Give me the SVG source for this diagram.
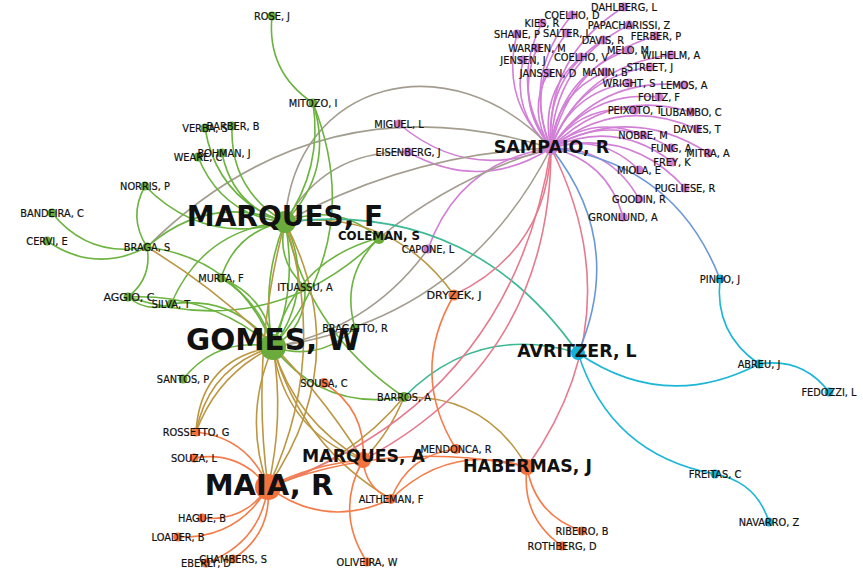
<svg xmlns="http://www.w3.org/2000/svg" width="863" height="568" viewBox="0 0 863 568">
<style>
.e{fill:none;stroke-width:1.6}
.eg{stroke:#6cb33f}.ep{stroke:#d27fd6}.ey{stroke:#a39d90}.et{stroke:#bb9743}.eq{stroke:#3cb892}
.ek{stroke:#e67a8e}.eb{stroke:#6b97d8}.eo{stroke:#f57b48}.ec{stroke:#1cb6d6}
.ng{fill:#6aab3b}.np{fill:#d07ed3}.no{fill:#f4733d}.nc{fill:#17b0d6}
text{font-family:"DejaVu Sans","Liberation Sans",sans-serif;fill:#111;text-anchor:middle}
.l{font-size:9.8px;stroke:#111;stroke-width:0.2}
.b{font-weight:bold}
</style>
<rect width="863" height="568" fill="#fff"/>
<g id="edges">
<g class="e ep">
<path d="M551,148Q545.2,55.6 624,7"/><path d="M551,148Q521.6,75.2 572,15"/><path d="M551,148Q509,88.2 542,23"/>
<path d="M551,148Q553.1,63.1 629,25"/><path d="M551,148Q499.8,101.2 517,34"/><path d="M551,148Q524.5,85.7 567,33"/>
<path d="M551,148Q544.6,78.4 603,40"/><path d="M551,148Q569.9,60.5 656,36"/><path d="M551,148Q514,102.2 537,48"/>
<path d="M551,148Q560.1,75.9 628,50"/><path d="M551,148Q510.6,112.4 523,60"/><path d="M551,148Q538.7,93.5 581,57"/>
<path d="M551,148Q583.1,65.5 671,55"/><path d="M551,148Q576.2,77.8 650,67"/><path d="M551,148Q527,111.4 548,73"/>
<path d="M551,148Q555.2,93.8 605,72"/><path d="M551,148Q570.5,92.1 629,83"/><path d="M551,148Q598.6,76.6 684,85"/>
<path d="M551,148Q589.7,90.1 659,97"/><path d="M551,148Q581.6,103.8 635,110"/><path d="M551,148Q610.2,88 691,112"/>
<path d="M551,148Q618.3,94.7 697,129"/><path d="M551,148Q593.1,113.9 643,135"/><path d="M551,148Q611,112 671,148"/>
<path d="M551,148Q631,103.4 708,153"/><path d="M551,148Q615.7,118.7 672,162"/><path d="M551,148Q601.6,132.6 639,170"/>
<path d="M551,148Q630,127.8 685,188"/><path d="M551,148Q610.3,147.1 639,199"/><path d="M551,148Q607.7,160.9 623,217"/>
<path d="M551,148Q467.8,181.6 399,124"/><path d="M551,148Q480.7,192.9 408,152"/><path d="M428,249Q459.2,161.6 551,148"/>
</g>
<g class="e ey">
<path d="M285,222C295,80 450,40 551,148"/><path d="M147,247Q319.8,76.6 551,148"/><path d="M285,222Q409.6,153.2 551,148"/>
<path d="M285,222Q325.5,150.1 408,152"/><path d="M551,148Q463.7,319.8 273,347"/><path d="M428,249Q370.1,329 273,347"/>
<path d="M379,238Q456,175.8 551,148"/>
</g>
<g class="e eg">
<path d="M313,103Q266.4,71.8 272,16"/><path d="M313,103Q334.7,170.9 285,222"/><path d="M313,103Q322.8,168.1 285,222"/>
<path d="M313,103Q366.2,237 273,347"/><path d="M285,222Q216.8,199 205,128"/><path d="M285,222Q229.7,189.9 232,126"/>
<path d="M285,222Q222.3,216.1 198,157"/><path d="M285,222Q232.8,206.4 222,153"/><path d="M285,222Q204.2,246 145,186"/>
<path d="M147,247Q127.7,217.1 145,186"/><path d="M147,247Q89.3,258.5 52,213"/><path d="M147,247Q95.2,274 47,241"/>
<path d="M147,247Q208.5,193.1 285,222"/><path d="M147,247Q240,259.2 273,347"/><path d="M147,247Q152.5,277.7 128,297"/>
<path d="M221,278Q236.2,230.8 285,222"/><path d="M221,278Q267.7,296.9 273,347"/><path d="M221,278Q260.8,302.1 273,347"/>
<path d="M171,304Q147.4,313.4 128,297"/><path d="M379,238Q271.2,342.8 128,297"/><path d="M171,304Q203.4,228.8 285,222"/>
<path d="M171,304Q234.9,294.9 273,347"/><path d="M183,379Q218.4,336 273,347"/><path d="M285,222Q316.5,288.1 273,347"/>
<path d="M285,222Q297.8,286.3 273,347"/><path d="M273,347Q260.2,282.7 285,222"/><path d="M355,328Q340,275.8 379,238"/>
<path d="M273,347Q293.3,260.7 379,238"/><path d="M285,222Q336.8,201.8 379,238"/><path d="M355,328Q319.7,362.1 273,347"/>
<path d="M404,397Q323.5,411.3 273,347"/><path d="M404,397Q309.5,333.3 285,222"/><path d="M305,287Q275.5,260.5 285,222"/>
<path d="M305,287Q307,326.6 273,347"/><path d="M128,297Q210.5,293 273,347"/>
</g>
<g class="e et">
<path d="M196,432Q209,366.4 273,347"/><path d="M196,432Q217.5,374.1 273,347"/><path d="M196,432Q200.5,358.7 273,347"/>
<path d="M285,222Q356,359.6 268,487"/><path d="M285,222Q329.5,357.9 268,487"/><path d="M268,487Q250,352.8 285,222"/>
<path d="M268,487Q242.5,416 273,347"/><path d="M273,347Q284.5,417.5 268,487"/><path d="M363,460Q284.1,430.5 273,347"/>
<path d="M363,460Q295.4,421.5 273,347"/><path d="M147,247Q280.6,327.6 363,460"/><path d="M391,499Q301.6,446.6 273,347"/>
<path d="M404,397Q389.8,432.6 363,460"/><path d="M404,397Q349.5,462.4 268,487"/><path d="M404,397Q486.5,395.1 527,467"/>
<path d="M285,222Q391.4,207.8 454,295"/>
</g>
<g class="e eq">
<path d="M285,222Q470.8,199.6 578,353"/><path d="M404,397Q477.8,322.8 578,353"/>
</g>
<g class="e ek">
<path d="M551,148Q546.6,250.6 454,295"/><path d="M551,148Q550.6,360.4 363,460"/><path d="M551,148Q511.2,402.4 268,487"/>
<path d="M551,148Q634.7,314.7 527,467"/>
</g>
<g class="e eb">
<path d="M551,148Q626,242.4 578,353"/><path d="M551,148Q674.8,162.8 720,279"/>
</g>
<g class="e ec">
<path d="M759,364Q665.2,412.8 578,353"/><path d="M715,474Q610.2,454.6 578,353"/><path d="M759,364Q714,333.2 720,279"/>
<path d="M759,364Q802.4,357 829,392"/><path d="M715,474Q756.4,481.8 769,522"/>
</g>
<g class="e eo">
<path d="M196,432Q248.5,437.9 268,487"/><path d="M194,458Q239.7,450.3 268,487"/><path d="M268,487Q244.3,522.3 202,518"/>
<path d="M268,487Q238,539 178,537"/><path d="M268,487Q259.8,543.6 206,563"/><path d="M268,487Q272.1,533.5 233,559"/>
<path d="M391,499Q325.9,529.9 268,487"/><path d="M268,487Q312.8,464 363,460"/><path d="M268,487Q394.5,438.2 527,467"/>
<path d="M391,499Q449.4,442.2 527,467"/><path d="M391,499Q408.5,454.5 456,449"/><path d="M391,499Q365.3,487.9 363,460"/>
<path d="M367,562Q334.4,512.2 363,460"/><path d="M324,383Q366.6,409.8 363,460"/><path d="M456,449Q408.8,372.6 454,295"/>
<path d="M582,531Q535.3,515.5 527,467"/><path d="M562,546Q520.8,517 527,467"/>
</g>
</g>
<g id="nodes">
<g id="n-dahlberg"><circle class="np" cx="624" cy="7" r="4.5"/><text class="l" x="624" y="10.5">DAHLBERG, L</text></g>
<g id="n-coelho-d"><circle class="np" cx="572" cy="15" r="4.5"/><text class="l" x="572" y="18.5">COELHO, D</text></g>
<g id="n-kies"><circle class="np" cx="542" cy="23" r="4.5"/><text class="l" x="542" y="26.5">KIES, R</text></g>
<g id="n-papacharissi"><circle class="np" cx="629" cy="25" r="4.5"/><text class="l" x="629" y="28.5">PAPACHARISSI, Z</text></g>
<g id="n-shane"><circle class="np" cx="517" cy="34" r="4.5"/><text class="l" x="517" y="37.5">SHANE, P</text></g>
<g id="n-salter"><circle class="np" cx="567" cy="33" r="4.5"/><text class="l" x="567" y="36.5">SALTER, L</text></g>
<g id="n-davis"><circle class="np" cx="603" cy="40" r="4.5"/><text class="l" x="603" y="43.5">DAVIS, R</text></g>
<g id="n-ferber"><circle class="np" cx="656" cy="36" r="4.5"/><text class="l" x="656" y="39.5">FERBER, P</text></g>
<g id="n-warren"><circle class="np" cx="537" cy="48" r="4.5"/><text class="l" x="537" y="51.5">WARREN, M</text></g>
<g id="n-melo"><circle class="np" cx="628" cy="50" r="4.5"/><text class="l" x="628" y="53.5">MELO, M</text></g>
<g id="n-jensen"><circle class="np" cx="523" cy="60" r="4.5"/><text class="l" x="523" y="63.5">JENSEN, J</text></g>
<g id="n-coelho-v"><circle class="np" cx="581" cy="57" r="4.5"/><text class="l" x="581" y="60.5">COELHO, V</text></g>
<g id="n-wilhelm"><circle class="np" cx="671" cy="55" r="4.5"/><text class="l" x="671" y="58.5">WILHELM, A</text></g>
<g id="n-street"><circle class="np" cx="650" cy="67" r="4.5"/><text class="l" x="650" y="70.5">STREET, J</text></g>
<g id="n-janssen"><circle class="np" cx="548" cy="73" r="4.5"/><text class="l" x="548" y="76.5">JANSSEN, D</text></g>
<g id="n-manin"><circle class="np" cx="605" cy="72" r="4.5"/><text class="l" x="605" y="75.5">MANIN, B</text></g>
<g id="n-wright"><circle class="np" cx="629" cy="83" r="4.5"/><text class="l" x="629" y="86.5">WRIGHT, S</text></g>
<g id="n-lemos"><circle class="np" cx="684" cy="85" r="4.5"/><text class="l" x="684" y="88.5">LEMOS, A</text></g>
<g id="n-foltz"><circle class="np" cx="659" cy="97" r="4.5"/><text class="l" x="659" y="100.5">FOLTZ, F</text></g>
<g id="n-peixoto"><circle class="np" cx="635" cy="110" r="4.5"/><text class="l" x="635" y="113.5">PEIXOTO, T</text></g>
<g id="n-lubambo"><circle class="np" cx="691" cy="112" r="4.5"/><text class="l" x="691" y="115.5">LUBAMBO, C</text></g>
<g id="n-davies"><circle class="np" cx="697" cy="129" r="4.5"/><text class="l" x="697" y="132.5">DAVIES, T</text></g>
<g id="n-nobre"><circle class="np" cx="643" cy="135" r="4.5"/><text class="l" x="643" y="138.5">NOBRE, M</text></g>
<g id="n-fung"><circle class="np" cx="671" cy="148" r="4.5"/><text class="l" x="671" y="151.5">FUNG, A</text></g>
<g id="n-mitra"><circle class="np" cx="708" cy="153" r="4.5"/><text class="l" x="708" y="156.5">MITRA, A</text></g>
<g id="n-frey"><circle class="np" cx="672" cy="162" r="4.5"/><text class="l" x="672" y="165.5">FREY, K</text></g>
<g id="n-miola"><circle class="np" cx="639" cy="170" r="4.5"/><text class="l" x="639" y="173.5">MIOLA, E</text></g>
<g id="n-pugliese"><circle class="np" cx="685" cy="188" r="4.5"/><text class="l" x="685" y="191.5">PUGLIESE, R</text></g>
<g id="n-goodin"><circle class="np" cx="639" cy="199" r="4.5"/><text class="l" x="639" y="202.5">GOODIN, R</text></g>
<g id="n-gronlund"><circle class="np" cx="623" cy="217" r="4.5"/><text class="l" x="623" y="220.5">GRONLUND, A</text></g>
<g id="n-miguel"><circle class="np" cx="399" cy="124" r="4.5"/><text class="l" x="399" y="127.5">MIGUEL, L</text></g>
<g id="n-eisenberg"><circle class="np" cx="408" cy="152" r="4.5"/><text class="l" x="408" y="155.5">EISENBERG, J</text></g>
<g id="n-capone"><circle class="np" cx="428" cy="249" r="4.5"/><text class="l" x="428" y="252.5">CAPONE, L</text></g>
<g id="n-sampaio"><circle class="np" cx="551" cy="148" r="7"/><text class="b" x="551.5" y="153" font-size="17.5">SAMPAIO, R</text></g>

<g id="n-rose"><circle class="ng" cx="272" cy="16" r="4.5"/><text class="l" x="272" y="19.5">ROSE, J</text></g>
<g id="n-mitozo"><circle class="ng" cx="313" cy="103" r="4.5"/><text class="l" x="313" y="106.5">MITOZO, I</text></g>
<g id="n-verba"><circle class="ng" cx="205" cy="128" r="4.5"/><text class="l" x="205" y="131.5">VERBA, S</text></g>
<g id="n-barber"><circle class="ng" cx="232" cy="126" r="4.5"/><text class="l" x="233" y="129.5">BARBER, B</text></g>
<g id="n-weare"><circle class="ng" cx="198" cy="157" r="4.5"/><text class="l" x="198" y="160.5">WEARE, C</text></g>
<g id="n-bohman"><circle class="ng" cx="222" cy="153" r="4.5"/><text class="l" x="224" y="156.5">BOHMAN, J</text></g>
<g id="n-norris"><circle class="ng" cx="145" cy="186" r="4.5"/><text class="l" x="145" y="189.5">NORRIS, P</text></g>
<g id="n-bandeira"><circle class="ng" cx="52" cy="213" r="4.5"/><text class="l" x="52" y="216.5">BANDEIRA, C</text></g>
<g id="n-cervi"><circle class="ng" cx="47" cy="241" r="4.5"/><text class="l" x="47" y="244.5">CERVI, E</text></g>
<g id="n-braga"><circle class="ng" cx="147" cy="247" r="4.5"/><text class="l" x="147" y="250.5">BRAGA, S</text></g>
<g id="n-murta"><circle class="ng" cx="221" cy="278" r="4.5"/><text class="l" x="221" y="281.5">MURTA, F</text></g>
<g id="n-ituassu"><circle class="ng" cx="305" cy="287" r="4"/><text class="l" x="305" y="290.5">ITUASSU, A</text></g>
<g id="n-aggio"><circle class="ng" cx="128" cy="297" r="4.5"/><text x="129" y="301" font-size="11" stroke="#111" stroke-width="0.2">AGGIO, C</text></g>
<g id="n-silva"><circle class="ng" cx="171" cy="304" r="4.5"/><text class="l" x="171" y="307.5">SILVA, T</text></g>
<g id="n-bragatto"><circle class="ng" cx="355" cy="328" r="4.5"/><text class="l" x="355" y="331.5">BRAGATTO, R</text></g>
<g id="n-santos"><circle class="ng" cx="183" cy="379" r="4.5"/><text class="l" x="183" y="382.5">SANTOS, P</text></g>
<g id="n-barros"><circle class="ng" cx="404" cy="397" r="5"/><text class="l" x="404" y="400.5">BARROS, A</text></g>
<g id="n-coleman"><circle class="ng" cx="379" cy="238" r="6"/><text class="b" x="379" y="240" font-size="11.8">COLEMAN, S</text></g>
<g id="n-marques-f"><circle class="ng" cx="285" cy="222" r="11"/><text class="b" x="285" y="226" font-size="28">MARQUES, F</text></g>
<g id="n-gomes"><circle class="ng" cx="273" cy="347" r="13"/><text class="b" x="273" y="350" font-size="29.5">GOMES, W</text></g>

<g id="n-dryzek"><circle class="no" cx="454" cy="295" r="5.5"/><text x="454" y="299" font-size="11.2" stroke="#111" stroke-width="0.2">DRYZEK, J</text></g>
<g id="n-sousa"><circle class="no" cx="324" cy="383" r="5"/><text class="l" x="324" y="386.5">SOUSA, C</text></g>
<g id="n-rossetto"><circle class="no" cx="196" cy="432" r="4.5"/><text class="l" x="196" y="435.5">ROSSETTO, G</text></g>
<g id="n-souza"><circle class="no" cx="194" cy="458" r="4.5"/><text class="l" x="194" y="461.5">SOUZA, L</text></g>
<g id="n-hague"><circle class="no" cx="202" cy="518" r="4.5"/><text class="l" x="202" y="521.5">HAGUE, B</text></g>
<g id="n-loader"><circle class="no" cx="178" cy="537" r="4.5"/><text class="l" x="178" y="540.5">LOADER, B</text></g>
<g id="n-eberly"><circle class="no" cx="206" cy="563" r="4.5"/><text class="l" x="206" y="566.5">EBERLY, D</text></g>
<g id="n-chambers"><circle class="no" cx="233" cy="559" r="4.5"/><text class="l" x="233" y="562.5">CHAMBERS, S</text></g>
<g id="n-altheman"><circle class="no" cx="391" cy="499" r="5"/><text class="l" x="391" y="502.5">ALTHEMAN, F</text></g>
<g id="n-mendonca"><circle class="no" cx="456" cy="449" r="5"/><text class="l" x="456" y="452.5">MENDONCA, R</text></g>
<g id="n-oliveira"><circle class="no" cx="367" cy="562" r="4.5"/><text class="l" x="367" y="565.5">OLIVEIRA, W</text></g>
<g id="n-ribeiro"><circle class="no" cx="582" cy="531" r="4.5"/><text class="l" x="582" y="534.5">RIBEIRO, B</text></g>
<g id="n-rothberg"><circle class="no" cx="562" cy="546" r="4.5"/><text class="l" x="562" y="549.5">ROTHBERG, D</text></g>
<g id="n-marques-a"><circle class="no" cx="363" cy="460" r="8"/><text class="b" x="363.5" y="462" font-size="17.3">MARQUES, A</text></g>
<g id="n-habermas"><circle class="no" cx="527" cy="467" r="8"/><text class="b" x="527.5" y="472" font-size="17.4">HABERMAS, J</text></g>
<g id="n-maia"><circle class="no" cx="268" cy="487" r="13"/><text class="b" x="269" y="495" font-size="29">MAIA, R</text></g>

<g id="n-pinho"><circle class="nc" cx="720" cy="279" r="4.5"/><text class="l" x="720" y="282.5">PINHO, J</text></g>
<g id="n-abreu"><circle class="nc" cx="759" cy="364" r="4.5"/><text class="l" x="759" y="367.5">ABREU, J</text></g>
<g id="n-fedozzi"><circle class="nc" cx="829" cy="392" r="4.5"/><text class="l" x="829" y="395.5">FEDOZZI, L</text></g>
<g id="n-freitas"><circle class="nc" cx="715" cy="474" r="4.5"/><text class="l" x="715" y="477.5">FREITAS, C</text></g>
<g id="n-navarro"><circle class="nc" cx="769" cy="522" r="4.5"/><text class="l" x="769" y="525.5">NAVARRO, Z</text></g>
<g id="n-avritzer"><circle class="nc" cx="578" cy="353" r="7"/><text class="b" x="577" y="357" font-size="17.4">AVRITZER, L</text></g>
</g>
</svg>
